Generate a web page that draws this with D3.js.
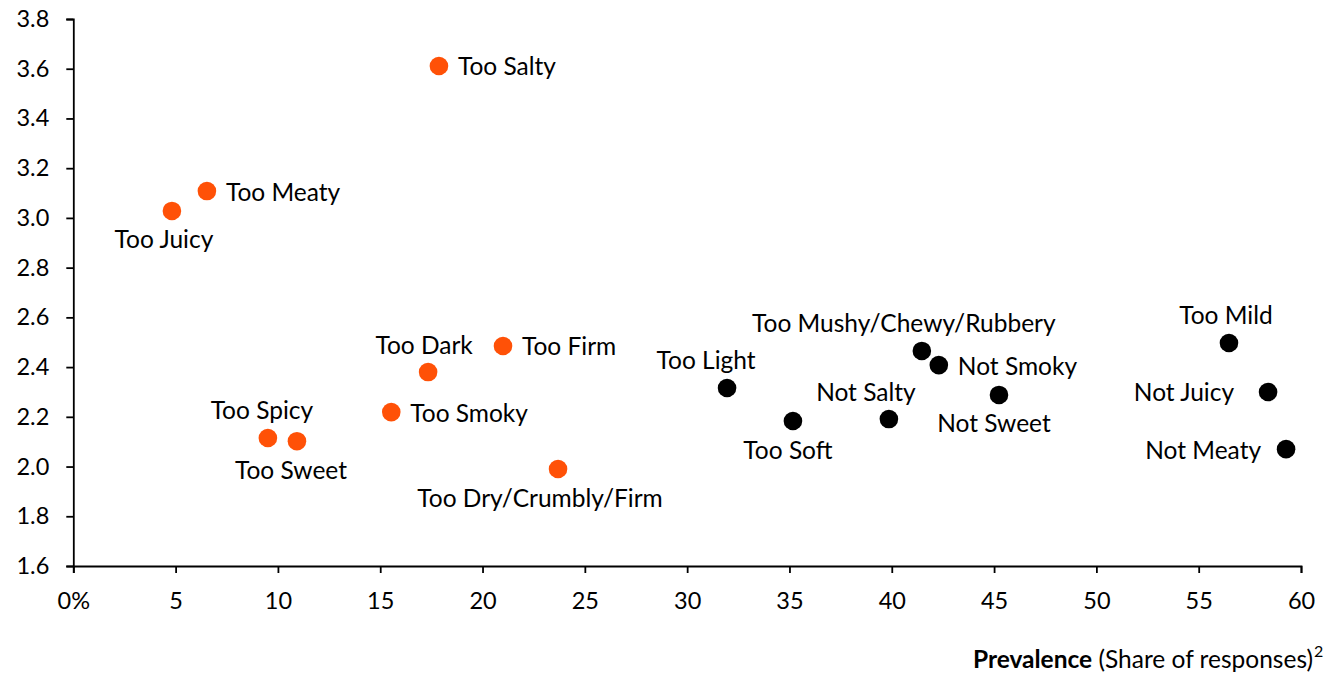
<!DOCTYPE html>
<html>
<head>
<meta charset="utf-8">
<script src="https://cdn.jsdelivr.net/npm/d3@7"></script>
<style>
  html, body { margin: 0; padding: 0; background: #fff; }
  svg { display: block; }
  text { font-family: Lato, "Open Sans", sans-serif; fill: #000; }
</style>
</head>
<body>
<svg id="chart" width="1328" height="673"></svg>
<script>
// ---- data ----
const orangeLabels = ["Too Salty", "Too Meaty", "Too Juicy", "Too Dark", "Too Firm", "Too Smoky", "Too Spicy", "Too Sweet", "Too Dry/Crumbly/Firm"];
const orangeX = [17.87, 6.53, 4.82, 17.34, 21.0, 15.54, 9.51, 10.93, 23.69];
const orangeY = [3.611, 3.108, 3.028, 2.380, 2.485, 2.219, 2.115, 2.102, 1.990];

const blackLabels = ["Too Light", "Too Soft", "Not Salty", "Too Mushy/Chewy/Rubbery", "Not Smoky", "Not Sweet", "Too Mild", "Not Juicy", "Not Meaty"];
const blackX = [31.95, 35.17, 39.86, 41.47, 42.30, 45.24, 56.48, 58.39, 59.27];
const blackY = [2.316, 2.183, 2.191, 2.465, 2.408, 2.288, 2.497, 2.300, 2.070];

const xTicks = [0, 5, 10, 15, 20, 25, 30, 35, 40, 45, 50, 55, 60];
const xTickLabels = ["0%", "5", "10", "15", "20", "25", "30", "35", "40", "45", "50", "55", "60"];
const yTicks = [1.6, 1.8, 2.0, 2.2, 2.4, 2.6, 2.8, 3.0, 3.2, 3.4, 3.6, 3.8];

// ---- label placement (layout, not data) ----
const placement = {
  "Too Salty": ["right", 0], "Too Meaty": ["right", 0], "Too Juicy": ["below", -8],
  "Too Dark": ["above", -4], "Too Firm": ["right", 0], "Too Smoky": ["right", 0],
  "Too Spicy": ["above", -6], "Too Sweet": ["below", -6], "Too Dry/Crumbly/Firm": ["below", -18],
  "Too Light": ["above", -21], "Too Soft": ["below", -5], "Not Salty": ["above", -23],
  "Too Mushy/Chewy/Rubbery": ["above", -18], "Not Smoky": ["right", 0], "Not Sweet": ["below", -5],
  "Too Mild": ["above", -3], "Not Juicy": ["left", -14], "Not Meaty": ["left", -5]
};

const svg = d3.select("#chart");
const x = d3.scaleLinear().domain([0, 60]).range([73.3, 1301]);
const y = d3.scaleLinear().domain([1.6, 3.8]).range([566, 19]);

const fontSize = 24.5;
const tickFont = 23.5;

// axes
const yAxis = d3.axisLeft(y).tickValues(yTicks).tickFormat(d3.format(".1f")).tickSize(7).tickPadding(17);
const gy = svg.append("g").attr("transform", `translate(${x(0)},0)`).call(yAxis);
const xAxis = d3.axisBottom(x).tickValues(xTicks).tickFormat((d, i) => xTickLabels[i]).tickSize(7).tickPadding(19);
const gx = svg.append("g").attr("transform", `translate(0,${y(1.6)})`).call(xAxis);

[gx, gy].forEach(g => {
  g.selectAll("path.domain").attr("stroke", "#000").attr("stroke-width", 1.8);
  g.selectAll(".tick line").attr("stroke", "#000").attr("stroke-width", 1.8);
  g.selectAll(".tick text").attr("font-size", tickFont).attr("font-family", "Lato, sans-serif").attr("fill", "#000");
});

// points
const pts = orangeLabels.map((l, i) => ({label: l, x: orangeX[i], y: orangeY[i], color: "#FF5107"}))
  .concat(blackLabels.map((l, i) => ({label: l, x: blackX[i], y: blackY[i], color: "#000000"})));

svg.append("g").selectAll("circle").data(pts).join("circle")
  .attr("cx", d => x(d.x)).attr("cy", d => y(d.y)).attr("r", 9.3)
  .attr("fill", d => d.color);

svg.append("g").selectAll("text").data(pts).join("text")
  .attr("font-size", fontSize)
  .each(function(d) {
    const [pos, dx] = placement[d.label];
    const cx = x(d.x), cy = y(d.y);
    const t = d3.select(this).text(d.label).attr("dominant-baseline", "central");
    if (pos === "right") t.attr("x", cx + 19).attr("y", cy).attr("text-anchor", "start");
    else if (pos === "left") t.attr("x", cx - 20 + dx).attr("y", cy).attr("text-anchor", "end");
    else if (pos === "above") t.attr("x", cx + dx).attr("y", cy - 28).attr("text-anchor", "middle");
    else t.attr("x", cx + dx).attr("y", cy + 28).attr("text-anchor", "middle");
  });

// axis title
const title = svg.append("text").attr("x", 1313).attr("y", 668).attr("text-anchor", "end").attr("font-size", 24.5);
title.append("tspan").attr("font-weight", "bold").text("Prevalence");
title.append("tspan").text(" (Share of responses)");
svg.append("text").attr("x", 1314).attr("y", 657).attr("font-size", 16).text("2");
</script>
</body>
</html>
